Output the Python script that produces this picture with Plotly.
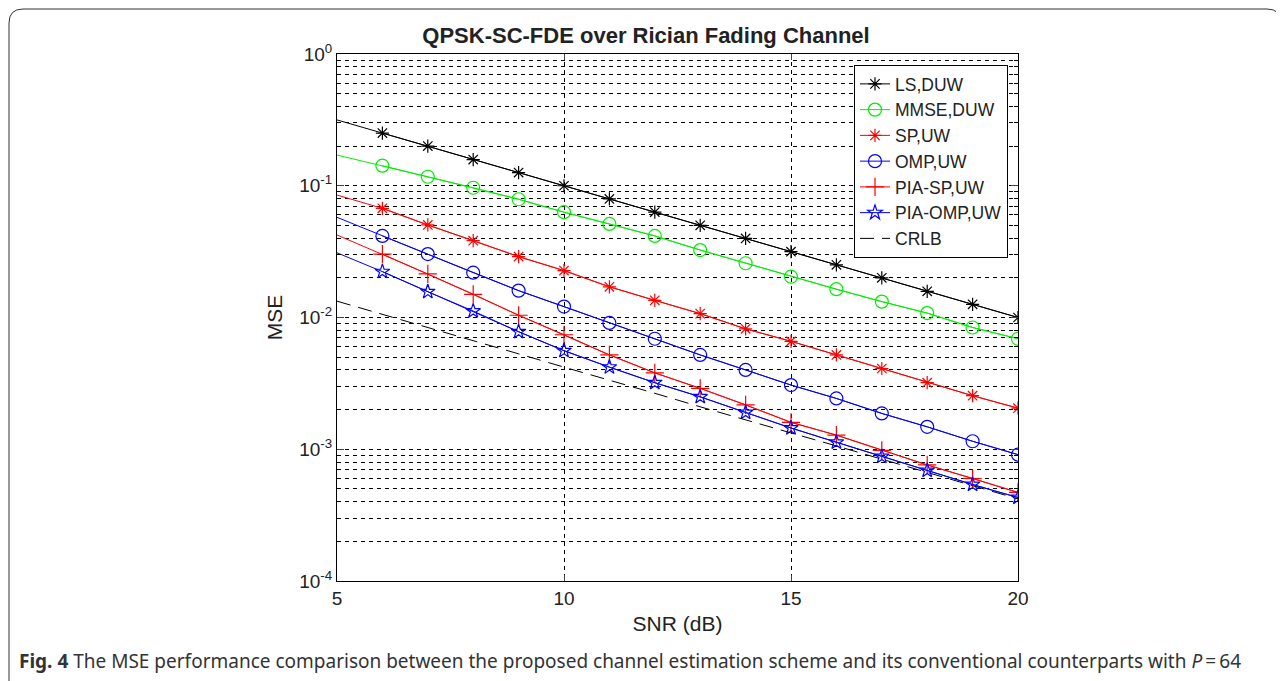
import plotly.graph_objects as go

snr = [5, 6, 7, 8, 9, 10, 11, 12, 13, 14, 15, 16, 17, 18, 19, 20]

ls_duw = [0.316, 0.251, 0.200, 0.158, 0.126, 0.100, 0.0794, 0.0631, 0.0501, 0.0398,
          0.0316, 0.0251, 0.0200, 0.0158, 0.0126, 0.0100]
mmse_duw = [0.171, 0.142, 0.117, 0.0966, 0.079, 0.063, 0.0513, 0.0416, 0.0325, 0.0258,
            0.0204, 0.0164, 0.0132, 0.0108, 0.0084, 0.0069]
sp_uw = [0.085, 0.0674, 0.0504, 0.0383, 0.029, 0.0227, 0.0171, 0.0135, 0.0107, 0.0082,
         0.0066, 0.0052, 0.0041, 0.0032, 0.00255, 0.00205]
omp_uw = [0.0576, 0.0416, 0.0303, 0.0219, 0.016, 0.0121, 0.0091, 0.0069, 0.0052, 0.0040,
          0.00307, 0.00243, 0.00187, 0.00148, 0.00115, 0.00091]
pia_sp_uw = [0.0423, 0.0303, 0.0214, 0.0150, 0.0104, 0.0074, 0.0052, 0.0038, 0.0029, 0.00217,
             0.0016, 0.00128, 0.00098, 0.00076, 0.0006, 0.00047]
pia_omp_uw = [0.031, 0.0223, 0.0157, 0.0112, 0.0078, 0.0056, 0.0042, 0.0032, 0.0025, 0.0019,
              0.00145, 0.00113, 0.00088, 0.00069, 0.00054, 0.00043]
crlb = [0.0133, 0.0106, 0.0084, 0.0067, 0.0053, 0.0042, 0.00335, 0.00266, 0.0021, 0.00168,
        0.00133, 0.00106, 0.00084, 0.00067, 0.00053, 0.00042]

series = [
    ("LS,DUW", ls_duw, "#000000", "asterisk-open", 11),
    ("MMSE,DUW", mmse_duw, "#00ee00", "circle-open", 13),
    ("SP,UW", sp_uw, "#ff0000", "asterisk-open", 11),
    ("OMP,UW", omp_uw, "#0000ff", "circle-open", 13),
    ("PIA-SP,UW", pia_sp_uw, "#ff0000", "cross-thin-open", 13),
    ("PIA-OMP,UW", pia_omp_uw, "#0000ff", "star-open", 11),
]

y_tickvals = [1e-4, 1e-3, 1e-2, 1e-1, 1e0]
y_ticktext = ["10<sup>-4</sup>", "10<sup>-3</sup>", "10<sup>-2</sup>", "10<sup>-1</sup>", "10<sup>0</sup>"]
x_tickvals = [5, 10, 15, 20]
minor_vals = [m * 10.0 ** e for e in range(-4, 0) for m in range(2, 10)]

# page is offset by the 8px body margin
OFF = 8
W, H = 1284 - OFF, 681 - OFF
PL, PR, PT, PB = 337, 1018, 54, 581  # plot area in page pixels


def px(x):
    return (x - PL) / (PR - PL)


def py(y):
    return 1 - (y - PT) / (PB - PT)


fig = go.Figure()
for name, vals, color, sym, size in series:
    fig.add_trace(go.Scatter(x=snr, y=vals, mode="lines", showlegend=False,
                             line=dict(color=color, width=1), hoverinfo="skip"))
    fig.add_trace(go.Scatter(x=snr[1:], y=vals[1:], mode="lines+markers", name=name,
                             line=dict(color=color, width=1),
                             marker=dict(symbol=sym, size=size, color=color,
                                         line=dict(color=color, width=1.2))))
fig.add_trace(go.Scatter(x=snr, y=crlb, mode="lines", name="CRLB",
                         line=dict(color="#000000", width=1, dash="14px,8px")))

fig.update_layout(
    width=W, height=H,
    margin=dict(l=PL - OFF, r=W - (PR - OFF), t=PT - OFF, b=H - (PB - OFF)),
    paper_bgcolor="white", plot_bgcolor="white",
    font=dict(family="Liberation Sans, Arial, sans-serif", color="#222222", size=19),
    title=dict(text="<b>QPSK-SC-FDE over Rician Fading Channel</b>", x=0.5, xanchor="center",
               y=1 - (35 - OFF) / H, yanchor="middle", font=dict(size=22, color="#222222")),
    showlegend=True,
    legend=dict(x=px(1008), xanchor="right", y=py(65), yanchor="top",
                bgcolor="white", bordercolor="black", borderwidth=1,
                font=dict(size=17.5, color="#222222"), tracegroupgap=0,
                itemsizing="trace"),
    xaxis=dict(range=[5, 20], tickvals=x_tickvals, ticks="inside", ticklen=6,
               showline=True, linecolor="black", linewidth=1, mirror="ticks",
               showgrid=True, gridcolor="black", griddash="4px,4px", gridwidth=1,
               zeroline=False, tickfont=dict(size=19),
               title=dict(text="SNR (dB)", font=dict(size=21), standoff=8)),
    yaxis=dict(type="log", range=[-4, 0], tickvals=y_tickvals, ticktext=y_ticktext,
               ticks="inside", ticklen=7, showline=True, linecolor="black", linewidth=1,
               mirror="ticks", showgrid=True, gridcolor="black", griddash="4px,4px",
               gridwidth=1, zeroline=False, tickfont=dict(size=19),
               minor=dict(tickvals=minor_vals, ticks="inside", ticklen=4, tickcolor="black",
                          showgrid=True, gridcolor="black", griddash="4px,4px", gridwidth=1),
               title=dict(text="MSE", font=dict(size=21), standoff=10)),
)

# outer frame of the journal figure (rounded corners)
r = 14
L, T, R = 9, 9, 1281
frame = (f"M {px(L)} {py(681)} L {px(L)} {py(T + r)} "
         f"Q {px(L)} {py(T)} {px(L + r)} {py(T)} "
         f"L {px(R - r)} {py(T)} Q {px(R)} {py(T)} {px(R)} {py(T + r)} "
         f"L {px(R)} {py(681)}")
fig.add_shape(type="path", xref="paper", yref="paper", path=frame,
              line=dict(color="#333333", width=1))

fig.add_annotation(xref="paper", yref="paper", x=px(17), y=py(661),
                   xanchor="left", yanchor="middle", showarrow=False,
                   text="<b>Fig. 4</b> The MSE performance comparison between the proposed channel "
                        "estimation scheme and its conventional counterparts with <i>P</i>\u2009=\u200964",
                   font=dict(family="Noto Sans, Open Sans, sans-serif", size=19, color="#333333"))

fig.write_html("out.html")
